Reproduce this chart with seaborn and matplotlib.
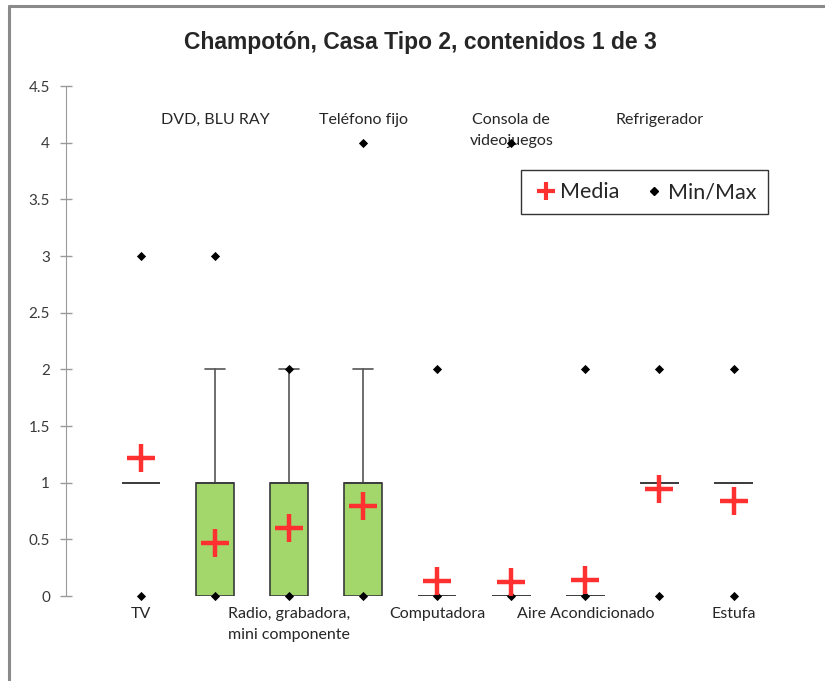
import numpy as np
import matplotlib
matplotlib.use("Agg")
import matplotlib.pyplot as plt
import seaborn as sns
from matplotlib.lines import Line2D

sns.set_style("white")
plt.rcParams['font.family'] = ['Lato', 'DejaVu Sans']

# datos
categorias = ["TV", "DVD, BLU RAY", "Radio, grabadora,\nmini componente", "Teléfono fijo",
              "Computadora", "Consola de\nvideojuegos", "Aire Acondicionado",
              "Refrigerador", "Estufa"]
q1 = [1, 0, 0, 0, 0, 0, 0, 1, 1]
mediana = [1, 1, 1, 1, 0, 0, 0, 1, 1]
q3 = [1, 1, 1, 1, 0, 0, 0, 1, 1]
bigote_inf = [1, 0, 0, 0, 0, 0, 0, 1, 1]
bigote_sup = [1, 2, 2, 2, 0, 0, 0, 1, 1]
minimo = [0, 0, 0, 0, 0, 0, 0, 0, 0]
maximo = [3, 3, 2, 4, 2, 4, 2, 2, 2]
media = [1.22, 0.47, 0.60, 0.79, 0.13, 0.12, 0.14, 0.94, 0.84]

pos = np.arange(len(categorias))
arriba = [False, True, False, True, False, True, False, True, False]

fig = plt.figure(figsize=(8.25, 6.81), dpi=100)
ax = fig.add_axes([0.08, 0.1248, 0.89, 0.7489])

stats = []
for i in range(len(categorias)):
    stats.append({'q1': q1[i], 'med': mediana[i], 'q3': q3[i],
                  'whislo': bigote_inf[i], 'whishi': bigote_sup[i], 'fliers': []})

ax.bxp(stats, positions=pos, widths=0.52, patch_artist=True, showfliers=False,
       boxprops=dict(facecolor='#A3D76C', edgecolor='#3a3a3a', linewidth=1.2),
       medianprops=dict(color='#3a3a3a', linewidth=1.2),
       whiskerprops=dict(color='#555555', linewidth=1.2),
       capprops=dict(color='#555555', linewidth=1.2), capwidths=0.26)

# min / max
xs = np.concatenate([pos, pos])
ys = np.concatenate([minimo, maximo])
sns.scatterplot(x=xs, y=ys, marker='D', s=22, color='black', linewidth=0,
                ax=ax, zorder=5, clip_on=False)
# media
sns.scatterplot(x=pos, y=media, marker='+', s=380, color='#FF3030', linewidth=3.2,
                ax=ax, zorder=6, clip_on=False)

ax.set_xlim(-1.01, 8.9)
ax.set_ylim(0, 4.5)
ax.set_yticks(np.arange(0, 4.51, 0.5))
ax.set_yticklabels(['%g' % v for v in np.arange(0, 4.51, 0.5)], fontsize=11, color='#3a3a3a')
ax.set_xticks([])
for s in ['top', 'right', 'bottom']:
    ax.spines[s].set_visible(False)
ax.spines['left'].set_color('#9a9a9a')
ax.tick_params(axis='y', direction='inout', length=9, color='#9a9a9a', width=1, pad=7,
               left=True)

for i, cat in enumerate(categorias):
    if arriba[i]:
        ax.text(pos[i], 0.948, cat, transform=ax.get_xaxis_transform(), ha='center',
                va='top', fontsize=11.5, color='#262626', linespacing=1.65)
    else:
        ax.text(pos[i], -0.022, cat, transform=ax.get_xaxis_transform(), ha='center',
                va='top', fontsize=11.5, color='#262626', linespacing=1.65)

handles = [Line2D([], [], marker='+', color='#FF3030', linestyle='', markersize=13, mew=3),
           Line2D([], [], marker='D', color='black', linestyle='', markersize=4)]
leg = ax.legend(handles, ['Media', 'Min/Max'], ncol=2, loc='upper right',
                bbox_to_anchor=(0.971, 0.856), frameon=True, fancybox=False,
                fontsize=15.5, handletextpad=0.05, columnspacing=1.0, borderpad=0.55,
                handlelength=1.2)
leg.get_frame().set_edgecolor('black')
leg.get_frame().set_linewidth(1.0)

fig.suptitle("Champotón, Casa Tipo 2, contenidos 1 de 3", x=0.51, y=0.954,
             fontsize=16.5, fontweight='bold', family=['Liberation Sans', 'DejaVu Sans'])

# marco de la captura
fig.add_artist(Line2D([0.011, 1.0], [0.991, 0.991], color='#8a8a8a', linewidth=2.2,
                      transform=fig.transFigure))
fig.add_artist(Line2D([0.011, 0.011], [0.0, 0.991], color='#8a8a8a', linewidth=2.2,
                      transform=fig.transFigure))

fig.savefig("out.png", dpi=100)
